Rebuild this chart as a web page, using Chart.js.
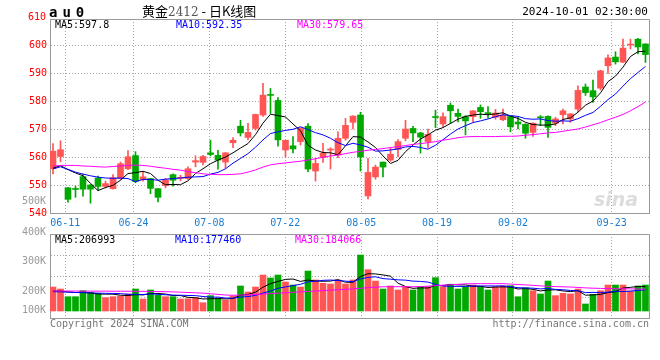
<!DOCTYPE html>
<html><head><meta charset="utf-8">
<script src="https://cdn.jsdelivr.net/npm/chart.js@4"></script>
<style>
html,body{margin:0;padding:0;background:#fff;}
body{width:660px;height:360px;overflow:hidden;position:relative;font-family:"DejaVu Sans Mono","Liberation Mono",monospace;}
.t{position:absolute;white-space:nowrap;font-size:10px;line-height:10px;}
.r{text-align:right;}
canvas{position:absolute;left:0;}
</style></head><body>
<canvas id="cp" width="660" height="232" style="top:0"></canvas>
<canvas id="cv" width="660" height="100" style="top:226px"></canvas>

<div class="t" style="left:22px;top:12px;width:24px;color:#f00;text-align:right">610</div>
<div class="t" style="left:49px;top:5px;font-size:14px;line-height:14px;font-weight:bold;letter-spacing:5px;color:#000">au0</div>
<div class="t" style="left:142px;top:4px;font-size:13px;line-height:14px;font-family:'Noto Sans CJK SC',sans-serif;color:#000">黄金<span style="color:#555;font-family:'DejaVu Serif',serif;font-size:12px">2412</span> - 日K线图</div>
<div class="t" style="left:520px;top:6px;width:128px;text-align:right;font-size:11px;line-height:11px;color:#000">2024-10-01 02:30:00</div>
<div class="t" style="left:55px;top:20px;color:#000">MA5:597.8</div>
<div class="t" style="left:176px;top:20px;color:#0000ff">MA10:592.35</div>
<div class="t" style="left:297px;top:20px;color:#ff00ff">MA30:579.65</div>
<div class="t" style="left:594px;top:190px;font-family:'DejaVu Sans',sans-serif;font-size:19px;line-height:19px;font-style:italic;font-weight:bold;color:#dcdcdc">sina</div>

<div class="t" style="left:20px;top:196px;width:26px;text-align:right;color:#999">500K</div>
<div class="t" style="left:20px;top:227px;width:26px;text-align:right;color:#999">400K</div>
<div class="t" style="left:20px;top:256px;width:26px;text-align:right;color:#999">300K</div>
<div class="t" style="left:20px;top:286px;width:26px;text-align:right;color:#999">200K</div>
<div class="t" style="left:20px;top:305px;width:26px;text-align:right;color:#999">100K</div>
<div class="t" style="left:55px;top:235px;color:#000">MA5:206993</div>
<div class="t" style="left:175px;top:235px;color:#0000ff">MA10:177460</div>
<div class="t" style="left:295px;top:235px;color:#ff00ff">MA30:184066</div>
<div class="t" style="left:50px;top:319px;color:#777">Copyright 2024 SINA.COM</div>
<div class="t" style="left:420px;top:319px;width:229px;text-align:right;color:#777">http://finance.sina.com.cn</div>

<script>
// ---- categories (trading days) ----
const dates = ['06-06','06-07','06-11','06-12','06-13','06-14','06-17','06-18','06-19','06-20','06-21','06-24','06-25','06-26','06-27','06-28',
'07-01','07-02','07-03','07-04','07-05','07-08','07-09','07-10','07-11','07-12','07-15','07-16','07-17','07-18','07-19','07-22','07-23','07-24','07-25','07-26','07-29','07-30','07-31',
'08-01','08-02','08-05','08-06','08-07','08-08','08-09','08-12','08-13','08-14','08-15','08-16','08-19','08-20','08-21','08-22','08-23','08-26','08-27','08-28','08-29','08-30',
'09-02','09-03','09-04','09-05','09-06','09-09','09-10','09-11','09-12','09-13','09-18','09-19','09-20','09-23','09-24','09-25','09-26','09-27','09-30'];
const dateTicks = ['06-11','06-24','07-08','07-22','08-05','08-19','09-02','09-23'];
const priceTicks = [540,550,560,570,580,590,600];

// ---- OHLC ----
const openP = [555.8,560.2,549.0,548.6,553.0,550.0,552.5,549.5,548.7,552.3,555.8,560.5,552.0,552.3,548.7,549.8,553.7,552.4,552.3,558.2,
558.1,561.5,560.6,558.2,565.1,571.0,567.0,570.2,575.0,582.3,580.2,562.5,564.0,565.5,571.0,555.0,559.9,562.5,560.7,566.7,
572.4,575.0,546.1,552.9,558.2,558.9,562.7,566.7,570.2,568.6,565.5,574.4,571.8,578.5,575.6,574.4,574.4,577.7,575.7,574.2,
573.3,574.5,572.5,571.7,568.8,574.2,574.5,572.1,575.1,573.6,577.1,585.0,583.7,584.6,592.6,595.7,593.9,600.0,602.1,600.4];
const highP = [564.8,565.8,549.2,549.6,553.9,550.3,553.2,551.4,553.7,558.2,562.3,561.9,554.8,552.3,548.7,552.3,554.0,553.5,556.5,560.4,
560.6,566.0,562.4,561.6,566.9,573.1,572.0,575.3,586.3,584.5,581.2,566.0,567.3,570.5,571.9,559.5,564.9,563.3,569.0,573.8,
574.8,576.0,559.5,557.1,558.2,563.1,566.2,573.1,571.0,568.8,570.0,576.7,575.8,579.3,577.1,574.8,576.6,578.6,578.0,577.0,
577.1,574.6,574.2,571.9,572.2,574.8,574.7,574.2,577.1,575.5,585.4,586.1,587.5,591.0,596.5,597.6,602.1,602.1,602.4,600.4];
const lowP = [554.0,558.3,543.9,545.6,546.0,543.5,548.1,548.9,548.5,552.0,555.5,550.8,551.4,546.9,544.0,549.0,549.6,551.5,552.0,556.5,
557.2,560.4,555.7,556.0,563.3,567.5,566.1,569.6,574.5,575.6,563.9,559.9,561.5,564.3,554.8,551.4,558.1,555.7,559.8,566.0,
570.0,555.0,545.0,552.1,552.9,558.5,560.0,565.8,565.5,561.4,563.3,570.5,570.8,571.9,572.5,567.9,572.6,573.8,574.0,573.5,
573.0,569.0,570.0,566.7,567.4,571.2,567.0,571.2,571.8,572.4,576.2,582.0,579.5,584.0,589.9,593.2,593.7,598.6,596.8,593.8];
const closeP = [562.1,562.6,544.9,548.4,548.5,548.5,549.5,550.5,552.6,557.6,560.1,551.3,552.9,548.8,545.6,551.9,551.7,552.6,555.8,558.7,
560.2,560.9,558.9,561.5,566.0,568.6,568.8,575.2,582.1,582.0,566.1,566.0,562.9,570.2,555.7,557.7,561.4,562.7,566.7,571.3,
574.6,560.0,554.5,556.4,556.4,561.0,565.5,570.0,568.6,567.1,568.1,574.1,574.4,576.5,574.5,572.9,576.5,576.2,575.5,575.7,
575.0,570.8,571.8,568.5,572.1,574.0,570.6,573.6,576.5,575.4,583.8,583.0,581.5,590.8,595.4,594.0,598.9,600.2,599.3,596.6];

// ---- price moving averages ----
const ma5 = [556.0,556.9,555.5,554.3,553.3,550.6,548.0,549.1,549.9,551.7,554.1,554.4,554.9,554.1,551.7,550.1,550.2,550.1,551.5,554.1,
555.8,557.6,558.9,560.0,561.5,563.2,564.8,568.0,572.1,575.3,574.8,574.3,571.8,569.4,564.2,562.5,561.6,561.5,560.8,564.0,
567.3,567.1,565.4,563.4,560.4,557.7,558.8,561.9,564.3,566.4,567.9,569.6,570.5,572.0,573.5,574.5,575.0,575.3,575.1,575.4,
575.8,574.6,573.8,572.4,571.6,571.4,571.4,571.8,573.4,574.0,576.0,578.5,580.0,582.9,586.9,588.9,592.1,595.9,597.6,597.8];
const ma10 = [555.8,556.5,555.6,554.6,553.9,553.3,552.8,552.5,552.4,552.5,552.3,551.2,552.0,552.0,551.7,552.1,552.3,552.5,552.8,552.9,
553.0,553.9,554.5,555.8,557.8,559.5,561.2,563.5,566.1,568.4,569.0,569.5,569.9,570.8,569.8,568.7,567.9,566.7,565.1,564.1,
564.9,564.3,563.5,562.1,562.2,562.5,562.9,563.6,563.8,563.4,562.8,564.2,566.2,568.2,570.0,571.2,572.3,572.9,573.6,574.4,
575.1,574.8,574.5,573.7,573.5,573.6,573.0,572.8,572.9,572.8,573.7,574.9,575.9,578.1,580.5,582.5,585.3,588.0,590.2,592.35];
const ma30 = [556.8,557.0,557.0,557.0,556.8,556.7,556.5,556.4,556.6,556.8,557.0,557.1,557.0,556.7,556.3,556.0,555.6,555.3,554.8,554.4,
554.0,553.8,553.7,553.7,553.8,554.0,554.6,555.4,556.4,557.2,557.6,557.9,558.2,558.5,558.9,559.4,559.9,560.4,560.7,561.2,
561.7,562.0,562.4,562.7,563.0,563.4,563.7,564.1,564.5,564.8,565.1,565.5,566.0,566.4,566.9,567.2,567.3,567.3,567.3,567.3,
567.4,567.4,567.5,567.8,568.0,568.3,568.6,568.8,569.2,569.6,570.0,570.7,571.5,572.3,573.3,574.2,575.2,576.5,578.0,579.65];

// ---- volume (thousand lots) and its moving averages ----
const volume = [204,185,112,112,169,154,144,103,112,119,138,185,90,176,125,112,112,90,93,103,
55,122,97,81,119,214,157,204,318,290,318,252,223,204,356,271,239,233,271,233,
271,508,369,261,185,214,176,207,176,207,207,293,207,230,185,207,223,207,176,207,
214,217,112,198,169,138,261,122,144,138,185,43,135,169,223,223,223,166,214,223];
const volMa5 = [166,165,158,152,156.4,146.4,138.2,136.4,136.4,126.4,123.2,131.4,128.8,141.6,142.8,137.6,123,123,106.4,102,
90.6,92.6,94,91.6,94.8,126.6,133.6,155,202.4,236.6,257.4,276.4,280.2,257.4,270.6,261.2,258.6,260.6,274,249.4,
249.4,303.2,330.4,328.4,318.8,307.4,241,208.6,191.6,196,194.6,218,218,228.8,224.4,224.4,210.4,210.4,199.6,204,
205.4,204.2,185.2,189.6,182,166.8,175.6,177.6,166.8,160.6,170,126.4,129,134,151,158.6,194.6,200.8,209.8,207.0];
const volMa10 = [160,158,155,152,150,148,146,144,143,141.4,134.8,134.8,132.6,139,134.6,130.4,127.2,125.9,124,122.4,
114.1,107.8,108.5,99,98.4,108.6,113.1,124.5,147,165.7,192,205,217.6,229.9,253.6,259.3,267.5,270.4,265.7,260,
255.3,280.9,295.5,301.2,284.1,278.4,272.1,269.5,260,257.4,251,229.5,213.3,210.2,210.2,209.5,214.2,214.2,214.2,214.2,
214.9,207.3,197.8,194.6,193,186.1,189.9,181.4,178.2,171.3,168.4,151,153.3,150.4,155.8,164.3,160.5,164.9,171.9,177.5];
const volMa30 = [166,166,166,166,165,165,165,165,164,164,164,163,163,162,161,160,158,155,152,149,
146,140,134,128,126,128,130,133,137,141,146,150,154,158,162,166,170,174,178,182,
186,192,198,203,206,207,207,207,207,208,212,218,222,225,230,234,236,236,236,236,
236,232,228,224,220,215,211,208,206,204,200,196,193,191,189,188,187,186,185,184];

// ---- styling ----
const RED = '#ff5555', GREEN = '#00a800', GRID = '#a8a8a8', FRAME = '#999';
const MONO = {family:'DejaVu Sans Mono', size:10};
const idx = dates.map((d, i) => i);
const candleColors = idx.map(i => closeP[i] >= openP[i] ? RED : GREEN);
const dateTickIdx = dateTicks.map(d => dates.indexOf(d));

const frame = {id:'frame', afterDraw(c){
  const {ctx, chartArea:a} = c;
  const t = Math.round(a.top) + 0.5, r = Math.round(a.right) + 0.5;
  ctx.save(); ctx.strokeStyle = FRAME; ctx.lineWidth = 1;
  ctx.beginPath(); ctx.moveTo(a.left, t); ctx.lineTo(r, t); ctx.lineTo(r, a.bottom + 0.5); ctx.stroke();
  ctx.restore();
}};

function candleX(){ return {type:'linear', min:-0.4, max:79.47, display:false, offset:false, grid:{offset:false}}; }
function dateX(showLabels){
  return {type:'linear', position:'bottom', min:0, max:78.92, offset:false,
    afterBuildTicks: s => { s.ticks = dateTickIdx.map(v => ({value:v})); },
    ticks:{display:showLabels, autoSkip:false, maxRotation:0, color:'#1a7fd4', font:MONO, padding:4,
      callback: v => dates[v]},
    grid:{color:GRID, drawTicks:false, offset:false},
    border:{display:true, color:FRAME, dash:[1,2]},
    afterFit: s => { s.height = showLabels ? 19 : 0; }};
}
function line(data, color, yId){
  return {type:'line', xAxisID:'x', yAxisID:yId, data: idx.map(i => ({x:i, y:data[i]})),
    borderColor:color, borderWidth:1, pointRadius:0, tension:0, order:0};
}

new Chart(document.getElementById('cp'), {
  type:'bar',
  data:{datasets:[
    {type:'bar', xAxisID:'x', yAxisID:'y', data: idx.map(i => ({x:i, y:[lowP[i], highP[i]]})),
      backgroundColor:candleColors, barThickness:1, grouped:false, minBarLength:1, order:3},
    {type:'bar', xAxisID:'x', yAxisID:'y', data: idx.map(i => ({x:i, y:[openP[i], closeP[i]]})),
      backgroundColor:candleColors, barThickness:6, grouped:false, minBarLength:1, order:2},
    line(ma30, '#ff00ff', 'y'),
    line(ma10, '#0000ff', 'y'),
    line(ma5, '#000000', 'y')
  ]},
  options:{
    responsive:false, animation:false, events:[],
    layout:{padding:{left:0, right:11, top:19, bottom:0}},
    plugins:{legend:{display:false}, tooltip:{enabled:false}},
    scales:{
      x: candleX(),
      xd: dateX(true),
      y:{type:'linear', position:'left', min:540, max:609.3,
        afterBuildTicks: s => { s.ticks = priceTicks.map(v => ({value:v})); },
        ticks:{color:'#ff0000', font:MONO, padding:3, callback: v => String(v)},
        grid:{drawTicks:false, color: c => (c.tick && c.tick.value === priceTicks[0]) ? 'rgba(0,0,0,0)' : GRID},
        border:{display:true, color:FRAME, dash:[1,2]},
        afterFit: s => { s.width = 50; }}
    }
  },
  plugins:[frame]
});

const VMIN = -90.25, VMAX = 707.75, VBASE = -23.75;
new Chart(document.getElementById('cv'), {
  type:'bar',
  data:{datasets:[
    {type:'bar', xAxisID:'x', yAxisID:'y', data: idx.map(i => ({x:i, y:volume[i]})),
      backgroundColor:candleColors, barThickness:6, grouped:false, base:VBASE, order:2},
    line(volMa30, '#ff00ff', 'y'),
    line(volMa10, '#0000ff', 'y'),
    line(volMa5, '#000000', 'y')
  ]},
  options:{
    responsive:false, animation:false, events:[],
    layout:{padding:{left:0, right:11, top:8, bottom:8}},
    plugins:{legend:{display:false}, tooltip:{enabled:false}},
    scales:{
      x: candleX(),
      xd: dateX(false),
      y:{type:'linear', position:'left', min:VMIN, max:VMAX,
        afterBuildTicks: s => { s.ticks = [1,2,3].map(k => ({value: VMIN + (VMAX - VMIN) * k / 4})); },
        ticks:{display:false},
        grid:{drawTicks:false, color:GRID},
        border:{display:true, color:FRAME, dash:[1,2]},
        afterFit: s => { s.width = 50; }}
    }
  },
  plugins:[frame]
});
</script>
</body></html>
